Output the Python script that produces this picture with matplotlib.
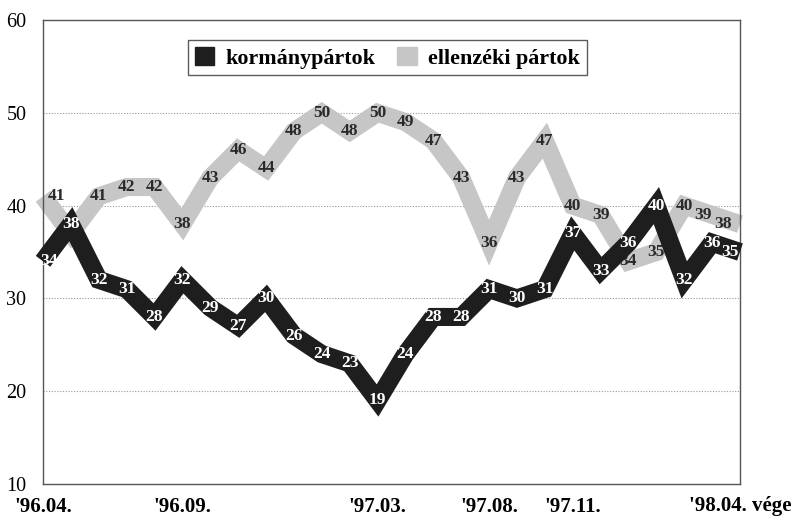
import matplotlib
matplotlib.use("Agg")
import matplotlib.pyplot as plt
from matplotlib.patches import Patch
import numpy as np

gov = [34, 38, 32, 31, 28, 32, 29, 27, 30, 26, 24, 23, 19, 24, 28, 28, 31, 30, 31, 37, 33, 36, 40, 32, 36, 35]
opp = [41, 37, 41, 42, 42, 38, 43, 46, 44, 48, 50, 48, 50, 49, 47, 43, 36, 43, 47, 40, 39, 34, 35, 40, 39, 38]
tick_idx = [0, 5, 12, 16, 19, 25]
tick_labels = ["'96.04.", "'96.09.", "'97.03.", "'97.08.", "'97.11.", "'98.04. vége"]
series_names = ["kormánypártok", "ellenzéki pártok"]

plt.rcParams['font.family'] = ['Liberation Serif', 'DejaVu Serif']

fig = plt.figure(figsize=(7.95, 5.16), dpi=100)
ax = fig.add_axes([43/795, 1-484/516, (740-43)/795, (484-20)/516])

x = np.arange(len(gov))
dark = '#1e1e1e'
light = '#c6c6c6'

ax.set_ylim(10, 60)
ax.set_xlim(0, len(gov)-1)
ax.set_yticks([10, 20, 30, 40, 50, 60])
for y in [20, 30, 40, 50]:
    ax.axhline(y, color='#999999', lw=0.8, ls=(0, (1, 1.5)), zorder=0)

lw = 13
ax.plot(x, opp, color=light, lw=lw, solid_joinstyle='miter', solid_capstyle='butt', zorder=2, clip_on=False)

n = len(gov)
opp_off = {0: 0.5, n-2: -0.33, n-1: -0.6}
gov_off = {0: 0.2, n-1: -0.35}

for i, v in enumerate(opp):
    ax.text(x[i] + opp_off.get(i, 0), v, str(v), ha='center', va='center', fontsize=12.5,
            fontweight='bold', color='#2a2a2a', zorder=3)

ax.plot(x, gov, color=dark, lw=lw, solid_joinstyle='miter', solid_capstyle='butt', zorder=4, clip_on=False)
for i, v in enumerate(gov):
    ax.text(x[i] + gov_off.get(i, 0), v, str(v), ha='center', va='center', fontsize=12.5,
            fontweight='bold', color='white', zorder=5)

ax.set_xticks(tick_idx)
ax.set_xticklabels(tick_labels, fontsize=15, fontweight='bold')
ax.tick_params(axis='both', length=0)
ax.tick_params(axis='x', pad=9)
ax.tick_params(axis='y', labelsize=14.5, pad=12)
for s in ax.spines.values():
    s.set_color('#555555')
    s.set_linewidth(1.0)

handles = [Patch(facecolor=dark, edgecolor=dark), Patch(facecolor=light, edgecolor=light)]
leg = ax.legend(handles, series_names, loc='upper center', bbox_to_anchor=(0.494, 0.98), ncol=2,
                prop={'family': 'Liberation Serif', 'weight': 'bold', 'size': 15.8},
                frameon=True, fancybox=False, edgecolor='#333333', handlelength=0.9, handleheight=0.9,
                handletextpad=0.5, columnspacing=1.0, borderpad=0.3)
leg.get_frame().set_linewidth(1.0)
leg.set_zorder(10)

fig.savefig('out.png', dpi=100)
